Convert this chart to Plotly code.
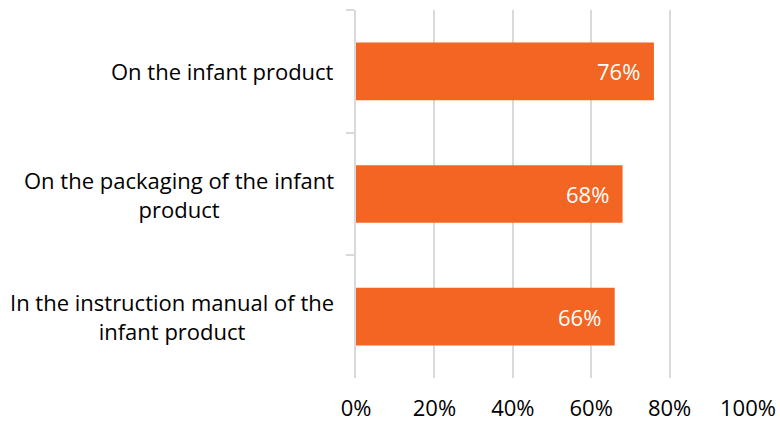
import plotly.graph_objects as go

categories = ["On the infant product",
              "On the packaging of the infant<br>product",
              "In the instruction manual of the<br>infant product"]
values = [76, 68, 66]
tick_vals = [0, 20, 40, 60, 80, 100]
tick_text = ["0%", "20%", "40%", "60%", "80%", "100%"]

ORANGE = "#F26522"
GRID = "#D9D9D9"
FONT = "Open Sans, Arial, sans-serif"

fig = go.Figure()
fig.add_trace(go.Bar(
    x=values, y=categories, orientation="h",
    marker=dict(color=ORANGE, line=dict(width=0)),
    width=0.47, hoverinfo="skip",
))

# value labels inside bar end
for c, v in zip(categories, values):
    fig.add_annotation(x=v, y=c, xref="x", yref="y", text=f"{v}%",
                       showarrow=False, xanchor="right", xshift=-12,
                       font=dict(family=FONT, size=22, color="white"))
# category labels (centered multi-line, right-aligned block)
for c in categories:
    fig.add_annotation(x=0, y=c, xref="paper", yref="y", text=c,
                       showarrow=False, xanchor="right", align="center",
                       xshift=-20,
                       font=dict(family=FONT, size=22, color="black"))

fig.update_layout(
    width=780, height=422,
    margin=dict(l=356, r=32, t=10, b=44, autoexpand=False),
    paper_bgcolor="white", plot_bgcolor="white",
    showlegend=False,
    bargap=0.53,
    xaxis=dict(range=[0, 100], tickvals=tick_vals, ticktext=tick_text,
               showgrid=True, gridcolor=GRID, gridwidth=2,
               zeroline=False, showline=False, ticks="",
               ticklabelstandoff=15, automargin=False,
               tickfont=dict(family=FONT, size=22, color="black"),
               fixedrange=True),
    yaxis=dict(categoryorder="array", categoryarray=categories,
               autorange="reversed", showticklabels=False,
               showline=True, linecolor=GRID, linewidth=2,
               ticks="outside", tickson="boundaries", ticklen=8,
               tickcolor=GRID, tickwidth=2, showgrid=False,
               automargin=False, fixedrange=True),
)

fig.write_html("out.html")
